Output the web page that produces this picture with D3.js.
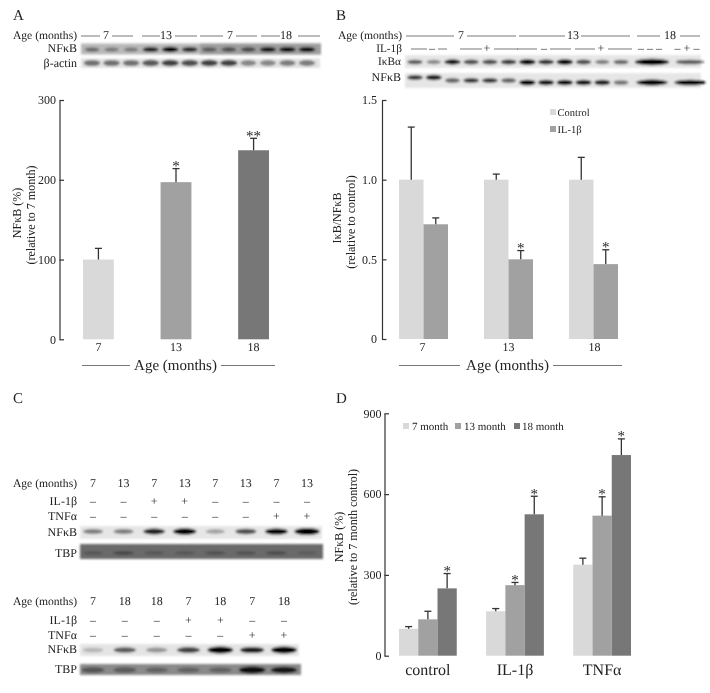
<!DOCTYPE html>
<html><head><meta charset="utf-8">
<script src="https://cdn.jsdelivr.net/npm/d3@7/dist/d3.min.js"></script>
<style>html,body{margin:0;padding:0;background:#fff}svg{display:block;filter:blur(0.35px)}
text{font-family:"Liberation Serif","Times New Roman",serif;fill:#222}</style></head>
<body><svg id="c" width="710" height="693"></svg>
<script>
// ---------- data ----------
const ages = ["7","13","18"];
const aValues = [100,197,237];
const aErrTop = [114,214,252];
const aStars = ["","*","**"];

const bSeries = ["Control","IL-1β"];
const bControl = [1,1,1];
const bControlErr = [1.33,1.035,1.14];
const bIL = [0.72,0.5,0.47];
const bILErr = [0.76,0.555,0.56];
const bILStars = ["","*","*"];

const dGroups = ["control","IL-1β","TNFα"];
const dSeries = ["7 month","13 month","18 month"];
const d7 = [100,165,338];
const d7Err = [108,175,362];
const d13 = [135,262,520];
const d13Err = [165,272,590];
const d18 = [250,525,745];
const d18Err = [305,592,805];
const d13Stars = ["","*","*"];
const d18Stars = ["*","*","*"];

// blot band darkness per lane
const aNFkB = [.45,.35,.35,.8,1,.75,.45,.5,.55,.85,.95,.95];
const aActin = [.5,.5,.5,.6,.7,.65,.7,.7,.4,.4,.45,.45];
const bIkB = [.6,.4,.9,.65,.65,.75,1,.8,1,.65,.45,.55,1.4,.6];
const bNFkB = [.75,.85,.55,.75,.75,.55,1,.9,.95,.9,.85,.5,1.05,1];
const c1NFkB = [.45,.45,.85,1.1,.3,.65,1,1.4];
const c1TBP = [.2,.35,.2,.2,.25,.25,.3,.15];
const c2NFkB = [.2,.6,.35,.7,1.1,.85,1.1];
const c2TBP = [.4,.35,.3,.3,.3,.9,.85];

const c1Age = ["7","13","7","13","7","13","7","13"];
const c1IL = ["–","–","+","+","–","–","–","–"];
const c1TNF = ["–","–","–","–","–","–","+","+"];
const c2Age = ["7","18","18","7","18","7","18"];
const c2IL = ["–","–","–","+","+","–","–"];
const c2TNF = ["–","–","–","–","–","+","+"];

const aTopGroups = ["7","13","7","18"];
const bTopGroups = ["7","13","18"];

// ---------- styles ----------
const LIGHT="#d9d9d9", MID="#a1a1a1", DARK="#777777", INK="#333";
const svg=d3.select("#c");
const defs=svg.append("defs");
defs.append("filter").attr("id","blot").attr("x","-10%").attr("y","-50%").attr("width","120%").attr("height","200%")
  .append("feGaussianBlur").attr("stdDeviation",1.1);

function label(x,y,t,size,anchor){
  return svg.append("text").attr("x",x).attr("y",y).attr("font-size",size)
    .attr("text-anchor",anchor||"start").attr("text-rendering","geometricPrecision").text(t);
}
function hline(x1,x2,y,w){
  svg.append("line").attr("x1",x1).attr("x2",x2).attr("y1",y).attr("y2",y)
    .attr("stroke","#555").attr("stroke-width",w||0.8);
}
function yLabel(x,y,t,size){
  svg.append("text").attr("transform",`translate(${x},${y}) rotate(-90)`)
    .attr("text-anchor","middle").attr("font-size",size).text(t);
}
function yAxis(x,scale,vals,fmt,pad){
  const ax=d3.axisLeft(scale).tickValues(vals).tickSizeInner(-4.5).tickSizeOuter(0).tickPadding(pad).tickFormat(fmt);
  const g=svg.append("g").attr("transform",`translate(${x},0)`).call(ax);
  g.selectAll("path,line").attr("stroke",INK).attr("stroke-width",1.2);
  g.selectAll("text").attr("font-size",12).attr("font-family",null);
  g.attr("font-family",null);
}
function bars(xf,w,vals,errs,y,fill,stars){
  const g=svg.append("g");
  const base=y.range()[0];
  vals.forEach((v,i)=>{
    const x=xf(i);
    g.append("rect").attr("x",x).attr("width",w).attr("y",y(v)).attr("height",base-y(v)).attr("fill",fill);
    const cx=x+w/2;
    g.append("line").attr("x1",cx).attr("x2",cx).attr("y1",y(v)).attr("y2",y(errs[i])).attr("stroke",INK).attr("stroke-width",1.3);
    g.append("line").attr("x1",cx-3.5).attr("x2",cx+3.5).attr("y1",y(errs[i])).attr("y2",y(errs[i])).attr("stroke",INK).attr("stroke-width",1.3);
    if(stars&&stars[i]) g.append("text").attr("x",cx).attr("y",y(errs[i])-4).attr("dy","0.42em").attr("text-anchor","middle")
      .attr("font-size",15).attr("fill","#444").text(stars[i]);
  });
}
function blot(o){
  // o: strip box, background, lane scale, band darkness
  const g=svg.append("g").attr("filter","url(#blot)");
  g.append("rect").attr("x",o.x0).attr("width",o.x1-o.x0).attr("y",o.y0).attr("height",o.y1-o.y0).attr("fill",o.bg);
  if(o.bg2) g.append("rect").attr("x",o.split).attr("width",o.x1-o.split).attr("y",o.y0).attr("height",o.y1-o.y0).attr("fill",o.bg2);
  g.selectAll("ellipse").data(o.vals).join("ellipse")
    .attr("cx",(d,i)=>o.lane(i))
    .attr("cy",(d,i)=>o.cyf?o.cyf(i):o.cy)
    .attr("rx",(d,i)=>(o.rxf?o.rxf(i):o.rx)*(0.8+0.25*d))
    .attr("ry",d=>o.ry*(0.7+0.4*d))
    .attr("fill","#000").attr("fill-opacity",d=>Math.min(1,d));
}

// ---------- panel letters ----------
label(13,20,"A",15); label(336,20,"B",15); label(13,403,"C",15); label(336,403,"D",15);

// ---------- Panel A ----------
label(77,39,"Age (months)",11.6,"end");
const aSeg=[[81,100,112,133,106],[142,160,175,197,166],[200,223,236,257,230],[261,280,298,320,286]];
aTopGroups.forEach((t,i)=>{const s=aSeg[i];
  hline(s[0],s[1],36);hline(s[2],s[3],36);label(s[4],39,t,12,"middle");});
label(77,52,"NFκB",12,"end");
label(77,67,"β-actin",12,"end");
const aLane=d3.scaleLinear().domain([0,11]).range([92,307]);
blot({x0:81,x1:321,y0:43.5,y1:54.5,bg:"#b8b8b8",bg2:"#9d9d9d",split:200,lane:aLane,vals:aNFkB,rx:8,ry:2.4,cy:49.5});
blot({x0:81,x1:320,y0:58.5,y1:68,bg:"#e2e2e2",lane:aLane,vals:aActin,rx:9,ry:3.4,cy:63});

const yA=d3.scaleLinear().domain([0,300]).range([339.3,100]);
yAxis(59.5,yA,[0,100,200,300],d3.format("d"),3.5);
const xA=d3.scaleBand().domain(ages).range([83,269]).paddingInner(47/78);
ages.forEach((a,i)=>{
  bars(j=>xA(a),xA.bandwidth(),[aValues[i]],[aErrTop[i]],yA,[LIGHT,MID,DARK][i],[aStars[i]]);
  label(xA(a)+xA.bandwidth()/2,351,a,12,"middle");
});
yLabel(21,213,"NFκB (%)",12); yLabel(35,215,"(relative to 7 month)",12);
hline(82,130,365.5); hline(221,275,365.5);
label(175.5,370,"Age (months)",15,"middle");

// ---------- Panel B ----------
label(402,39,"Age (months)",11.6,"end");
const bSeg=[[406,454,467,516,461],[519,565,581,630,573],[637,660,680,700,670]];
bTopGroups.forEach((t,i)=>{const s=bSeg[i];
  hline(s[0],s[1],36);hline(s[2],s[3],36);label(s[4],39,t,12,"middle");});
label(402,51.5,"IL-1β",11.3,"end");
[[411,427,438,447,432,"–"],[460,482,494,518,487,"+"],[517,537,550,571,544,"–"],[575,595,608,632,601,"+"]].forEach(s=>{
  hline(s[0],s[1],49);hline(s[2],s[3],49);label(s[4],52,s[5],12,"middle");});
label(650,52,"– – –",12,"middle");
label(687,52,"– + –",12,"middle");
label(401,64.5,"IκBα",11.3,"end");
label(401,81,"NFκB",12,"end");
const bLane=d3.scaleLinear().domain([0,11,12,13]).range([415,621,652,690]);
const bRx=i=>i>11?15:8;
blot({x0:405,x1:701,y0:55,y1:68,bg:"#e6e6e6",lane:bLane,vals:bIkB,rxf:bRx,ry:2.5,cy:62});
blot({x0:405,x1:701,y0:73,y1:88,bg:"#e6e6e6",lane:bLane,vals:bNFkB,rxf:bRx,ry:2.6,cyf:i=>i<2?77.5:(i<6?80.5:82.5)});

const yB=d3.scaleLinear().domain([0,1.5]).range([339,100]);
yAxis(382,yB,[0,0.5,1,1.5],d=>d===0?"0":d3.format(".1f")(d),5);
const xB=d3.scaleBand().domain(ages).range([399,618]).paddingInner(36/85);
const bw=xB.bandwidth()/2;
bars(i=>xB(ages[i]),bw,bControl,bControlErr,yB,LIGHT);
bars(i=>xB(ages[i])+bw,bw,bIL,bILErr,yB,MID,bILStars);
ages.forEach((a,i)=>label(xB(a)+[bw-1,bw,bw+1][i],351,a,12,"middle"));
yLabel(341,218,"IκB/NFκB",12); yLabel(355,222,"(relative to control)",12);
hline(399,460,365.5); hline(553,622,365.5);
label(507.5,370,"Age (months)",15,"middle");
bSeries.forEach((s,i)=>{
  const ly=[112,129][i];
  svg.append("rect").attr("x",550).attr("y",ly-3).attr("width",6).attr("height",6).attr("fill",[LIGHT,MID][i]);
  label(557.5,ly+4,s,10.5);
});

// ---------- Panel C ----------
function condRows(ages,il,tnf,lane,yAge,yIL,yTNF){
  label(77,yAge,"Age (months)",11.6,"end");
  label(77,yIL,"IL-1β",12,"end");
  label(77,yTNF,"TNFα",12,"end");
  ages.forEach((t,i)=>{
    label(lane(i),yAge,t,12,"middle");
    label(lane(i),yIL,il[i],12,"middle");
    label(lane(i),yTNF,tnf[i],12,"middle");
  });
}
const c1Lane=d3.scaleLinear().domain([0,7]).range([93,307]);
condRows(c1Age,c1IL,c1TNF,c1Lane,487,505,520);
label(77,536,"NFκB",12,"end"); label(77,557,"TBP",12,"end");
blot({x0:80,x1:322,y0:526,y1:539,bg:"#e6e6e6",lane:c1Lane,vals:c1NFkB,rx:11,ry:2.8,cy:531.5});
blot({x0:80,x1:323,y0:544,y1:559,bg:"#6b6b6b",lane:c1Lane,vals:c1TBP,rx:12,ry:2.2,cy:553});

const c2Lane=d3.scaleLinear().domain([0,6]).range([93,284]);
condRows(c2Age,c2IL,c2TNF,c2Lane,605,624,639);
label(77,653,"NFκB",12,"end"); label(77,673,"TBP",12,"end");
blot({x0:80,x1:299,y0:644,y1:656,bg:"#e4e4e4",lane:c2Lane,vals:c2NFkB,rx:12,ry:3,cy:650});
blot({x0:80,x1:301,y0:664,y1:675,bg:"#8a8a8a",lane:c2Lane,vals:c2TBP,rx:13,ry:3.2,cy:670});

// ---------- Panel D ----------
const yD=d3.scaleLinear().domain([0,900]).range([655.7,413.3]);
yAxis(384.5,yD,[0,300,600,900],d3.format("d"),3);
const xD=d3.scaleBand().domain(dGroups).range([399,631]).paddingInner(29.5/87.5);
const dw=xD.bandwidth()/3;
bars(i=>xD(dGroups[i]),dw,d7,d7Err,yD,LIGHT);
bars(i=>xD(dGroups[i])+dw,dw,d13,d13Err,yD,MID,d13Stars);
bars(i=>xD(dGroups[i])+2*dw,dw,d18,d18Err,yD,DARK,d18Stars);
dGroups.forEach(g=>label(xD(g)+xD.bandwidth()/2,675,g,16,"middle"));
yLabel(343,537,"NFκB (%)",12); yLabel(357,537,"(relative to 7 month control)",12);
[[403,412],[455,464],[514,522]].forEach((p,i)=>{
  svg.append("rect").attr("x",p[0]).attr("y",423).attr("width",6).attr("height",6).attr("fill",[LIGHT,MID,DARK][i]);
  label(p[1],430,dSeries[i],11);
});
</script></body></html>
